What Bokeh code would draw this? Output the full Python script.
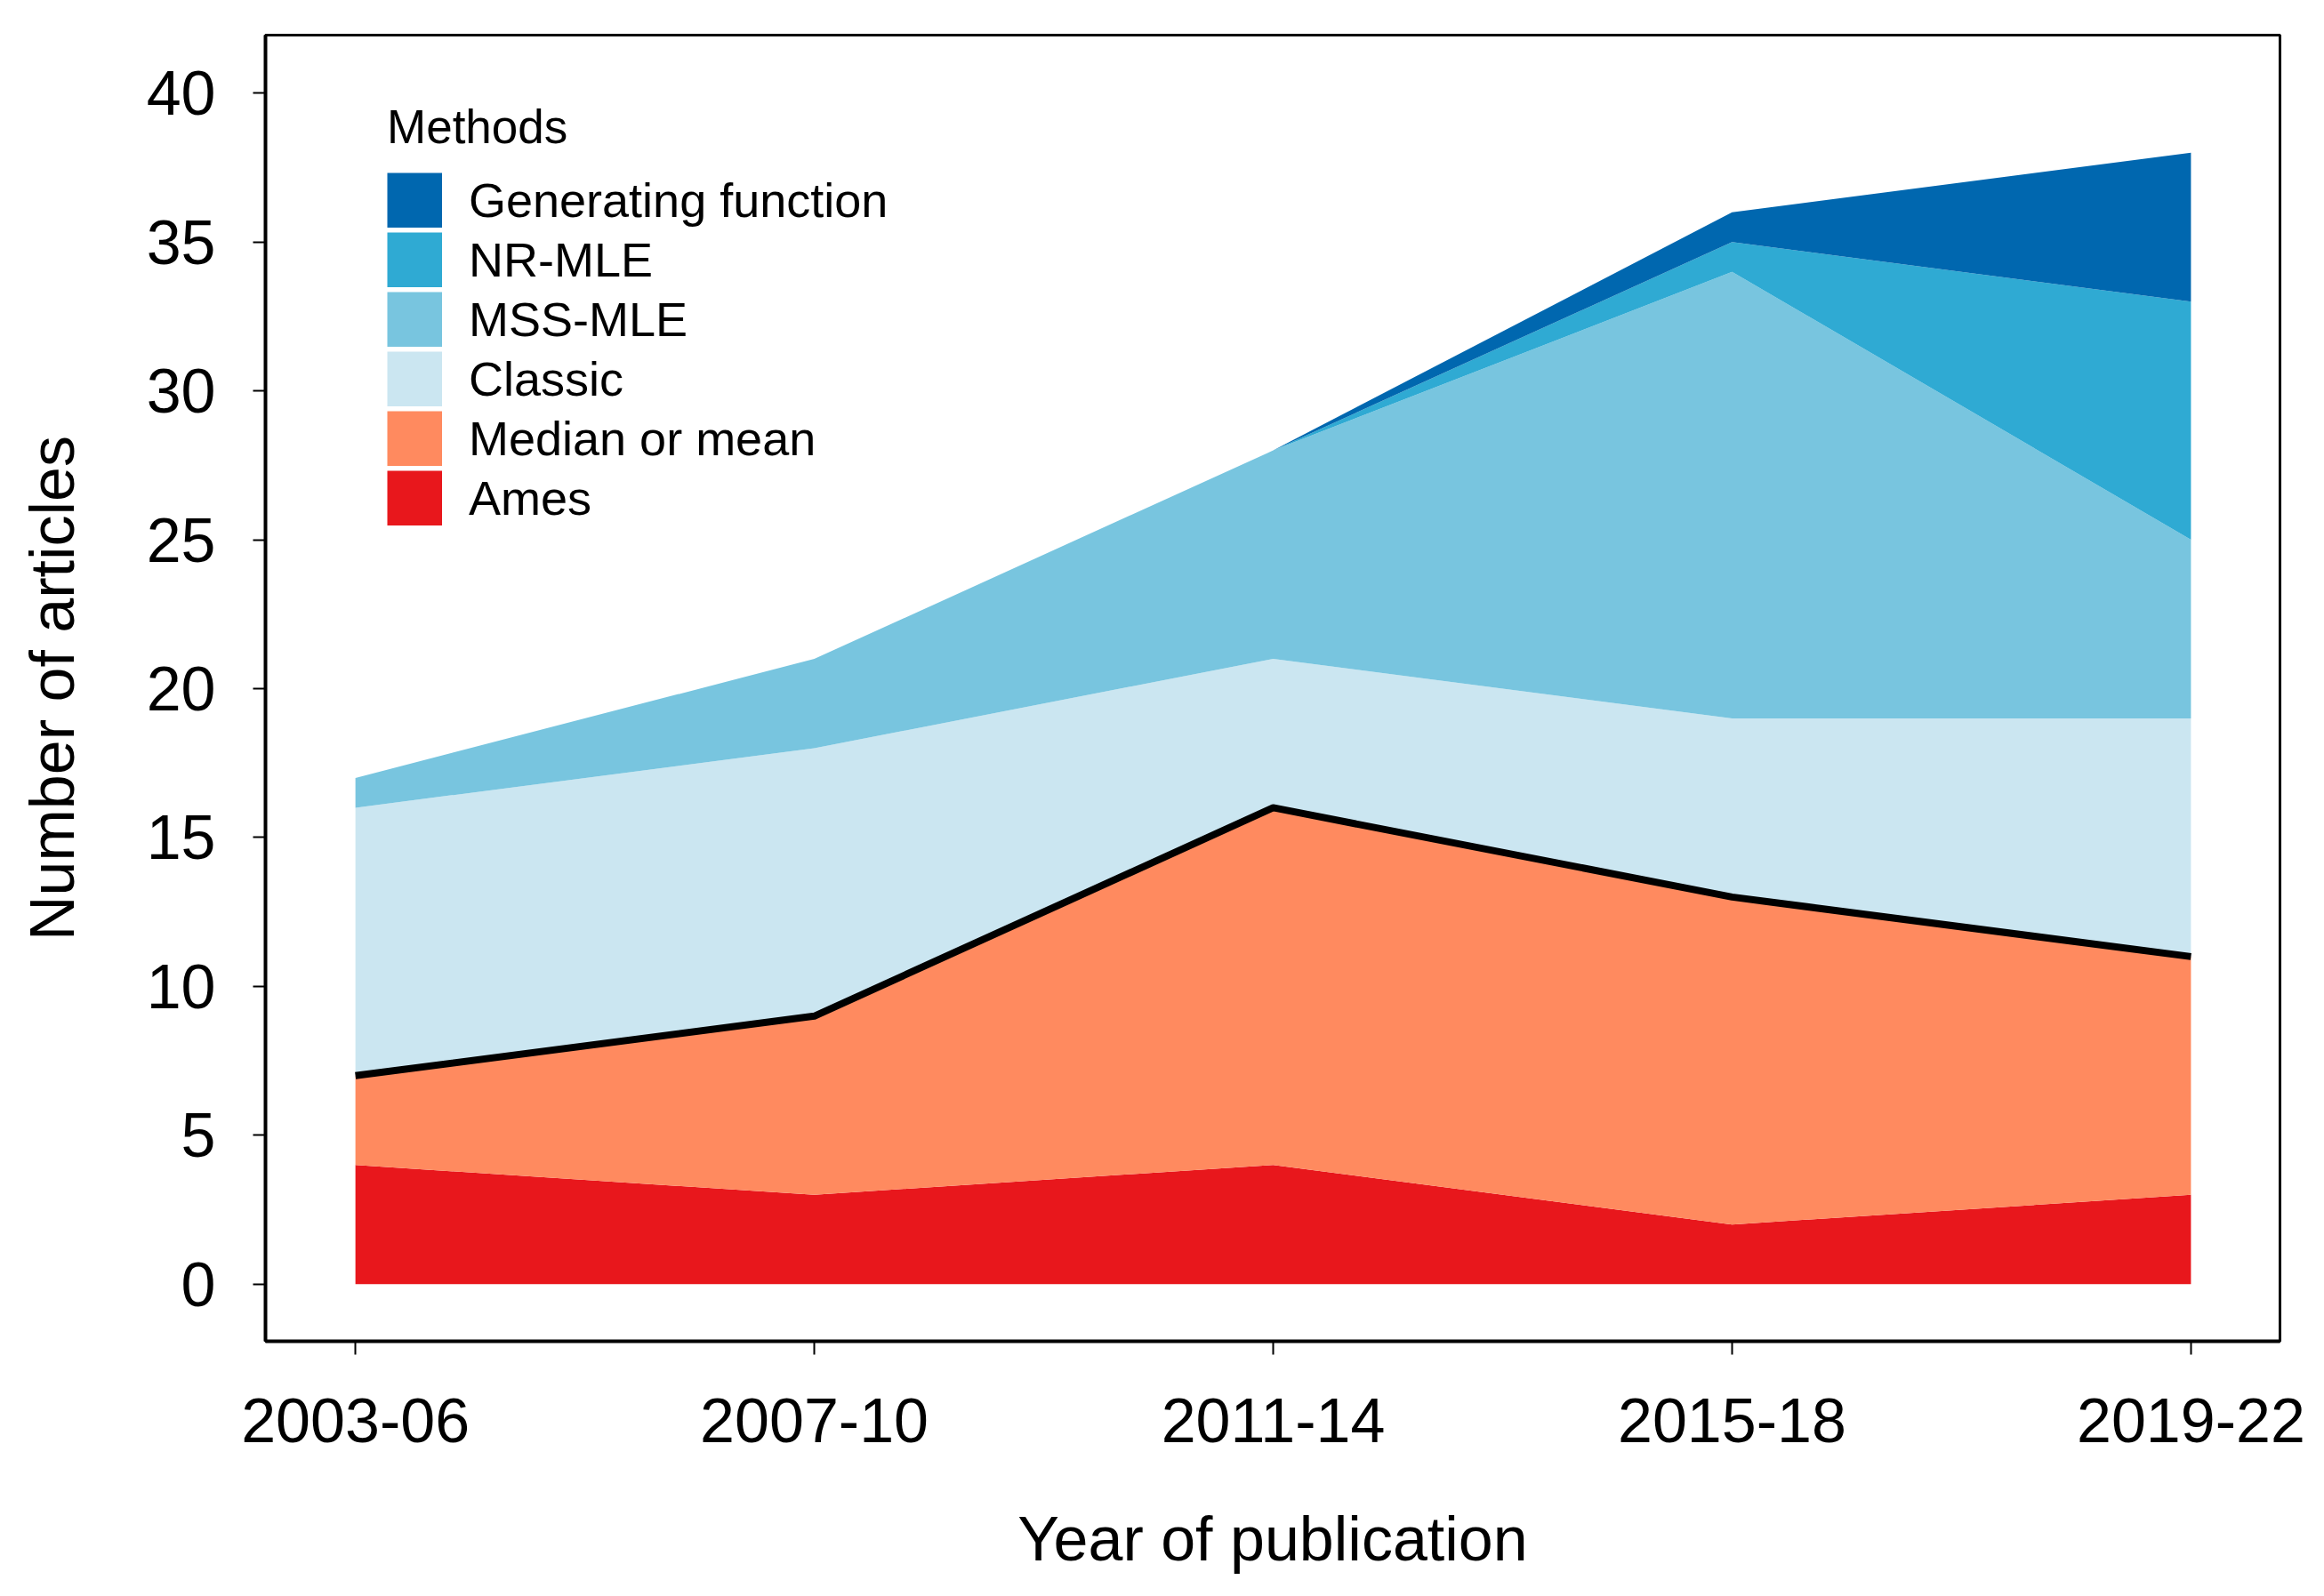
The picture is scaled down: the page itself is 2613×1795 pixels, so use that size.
from bokeh.plotting import figure
from bokeh.models import Legend, LegendItem, FixedTicker, Range1d, ColumnDataSource
from bokeh.transform import stack
from bokeh.embed import file_html
from bokeh.resources import INLINE

# ---- data ----
periods = ["2003-06", "2007-10", "2011-14", "2015-18", "2019-22"]
ames = [4, 3, 4, 2, 3]
median_mean = [3, 6, 12, 11, 8]
classic = [9, 9, 5, 6, 8]
mss_mle = [1, 3, 7, 15, 6]
nr_mle = [0, 0, 0, 1, 8]
generating = [0, 0, 0, 1, 5]
y_ticks = [0, 5, 10, 15, 20, 25, 30, 35, 40]

series_keys = ["ames", "median", "classic", "mss", "nr", "gf"]
series_names = ["Ames", "Median or mean", "Classic", "MSS-MLE", "NR-MLE", "Generating function"]
series_colors = ["#E8171C", "#FF8A5F", "#CBE6F1", "#78C5DF", "#2FAAD3", "#0067AF"]

xs = list(range(len(periods)))
src = ColumnDataSource(dict(x=xs, ames=ames, median=median_mean, classic=classic,
                            mss=mss_mle, nr=nr_mle, gf=generating))

FONT = "Liberation Sans"
SW = 62  # legend swatch size

p = figure(width=2597, height=1779, output_backend="svg", toolbar_location=None,
           x_range=Range1d(-0.196, len(periods) - 1 + 0.194), y_range=Range1d(-1.92, 41.95),
           min_border_left=298, min_border_right=34, min_border_top=39, min_border_bottom=271)

p.varea_stack(stackers=series_keys, x="x", color=series_colors, source=src)
p.line(x="x", y=stack("ames", "median"), source=src, line_color="black", line_width=8,
       line_join="round")

# legend swatches: invisible (NaN) thick lines give full-size square keys
nan = float("nan")
swatches = [p.line(x=[nan], y=[nan], line_color=c, line_width=SW, line_cap="butt")
            for c in series_colors]
items = [LegendItem(label=n, renderers=[r]) for n, r in zip(series_names, swatches)][::-1]
legend = Legend(items=items, location=(137, 917), title="Methods",
                title_text_font=FONT, title_text_font_size="53px", title_text_font_style="normal",
                title_text_color="black",
                title_standoff=21, label_text_font=FONT, label_text_font_size="54px",
                label_text_color="black",
                glyph_width=SW, glyph_height=SW, label_height=SW, spacing=5, label_standoff=30,
                padding=0, margin=0, border_line_color=None, background_fill_alpha=0)
p.add_layout(legend, "center")

p.grid.visible = False
p.outline_line_color = "black"
p.outline_line_width = 3
p.background_fill_color = "white"
p.border_fill_color = "white"

p.xaxis.ticker = FixedTicker(ticks=xs)
p.xaxis.major_label_overrides = {i: s for i, s in enumerate(periods)}
p.yaxis.ticker = FixedTicker(ticks=y_ticks)

for ax in (p.xaxis[0], p.yaxis[0]):
    ax.axis_line_color = "black"
    ax.axis_line_width = 4
    ax.major_tick_in = 0
    ax.minor_tick_in = 0
    ax.minor_tick_out = 0
    ax.major_tick_line_color = "black"
    ax.major_tick_line_width = 2
    ax.major_label_text_font = FONT
    ax.major_label_text_font_size = "70px"
    ax.major_label_text_color = "black"
    ax.axis_label_text_font = FONT
    ax.axis_label_text_font_size = "70px"
    ax.axis_label_text_font_style = "normal"
    ax.axis_label_text_color = "black"

p.xaxis.major_tick_out = 15
p.xaxis.major_label_standoff = 49
p.xaxis.axis_label = "Year of publication"
p.xaxis.axis_label_standoff = 67

p.yaxis.major_tick_out = 14
p.yaxis.major_label_standoff = 42
p.yaxis.axis_label = "Number of articles"
p.yaxis.axis_label_standoff = 64

open("out.html", "w").write(file_html(p, INLINE))
